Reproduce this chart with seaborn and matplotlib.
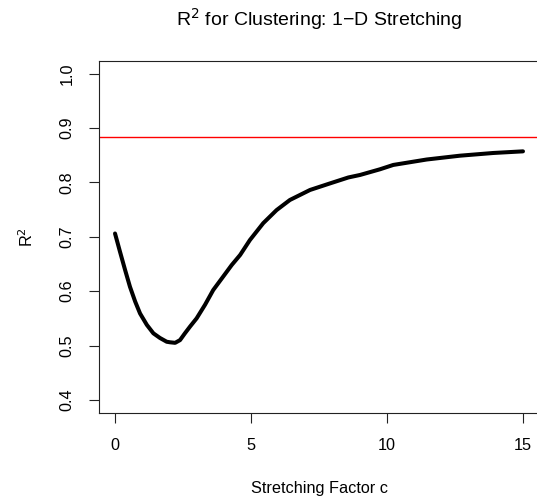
import numpy as np
import pandas as pd
import matplotlib
matplotlib.use("Agg")
import matplotlib.pyplot as plt
import seaborn as sns

# Data
stretch_c = [0.0, 0.18, 0.37, 0.55, 0.74, 0.92, 1.17, 1.41, 1.65, 1.90, 2.02, 2.21,
             2.39, 2.57, 2.76, 3.00, 3.31, 3.61, 3.98, 4.29, 4.60, 4.96, 5.45, 5.94,
             6.43, 7.17, 7.90, 8.58, 9.01, 9.74, 10.23, 11.46, 12.68, 13.91, 15.0]
r_squared = [0.706, 0.673, 0.639, 0.608, 0.581, 0.559, 0.538, 0.5225, 0.514, 0.507, 0.506, 0.505,
             0.510, 0.5225, 0.535, 0.550, 0.575, 0.602, 0.627, 0.648, 0.6665, 0.694, 0.725, 0.749,
             0.7676, 0.786, 0.798, 0.809, 0.8136, 0.824, 0.832, 0.842, 0.849, 0.854, 0.857]
reference_r2 = 0.884
x_ticks = [0, 5, 10, 15]
y_ticks = [0.4, 0.5, 0.6, 0.7, 0.8, 0.9, 1.0]

sns.set_theme(style="white")
plt.rcParams['font.family'] = ['Liberation Sans', 'DejaVu Sans']
plt.rcParams['text.color'] = 'black'
plt.rcParams['axes.labelcolor'] = 'black'

df = pd.DataFrame({"c": stretch_c, "r2": r_squared})

fig = plt.figure(figsize=(5.37, 4.99), dpi=100)
ax = fig.add_axes([98.7 / 537, (499 - 413) / 499, 440.6 / 537, 352.5 / 499])

sns.lineplot(data=df, x="c", y="r2", ax=ax, color="black", linewidth=2.9)
ax.lines[0].set_solid_joinstyle("round")
ax.lines[0].set_solid_capstyle("round")
ax.axhline(reference_r2, color="#ff0000", linewidth=1.0)

ax.set_xlim(-0.6, 15.6)
ax.set_ylim(0.376, 1.024)
ax.set_xticks(x_ticks)
ax.set_xticklabels([str(t) for t in x_ticks])
ax.set_yticks(y_ticks)
ax.set_yticklabels([f"{t:.1f}" for t in y_ticks], rotation=90, va="center")

for s in ax.spines.values():
    s.set_visible(True)
    s.set_color("#222222")
    s.set_linewidth(0.8)

ax.tick_params(axis="both", which="both", direction="out", length=7.2, width=0.8,
               color="#222222", labelsize=11.7, labelcolor="black",
               bottom=True, left=True, top=False, right=False)
ax.tick_params(axis="x", pad=11)
ax.tick_params(axis="y", pad=10)

ax.set_xlabel("Stretching Factor c", fontsize=11.7, labelpad=20)
ax.set_ylabel("R$^2$", fontsize=11.7, labelpad=17)
ax.grid(False)

fig.text((98.7 + 539.3) / 2 / 537, 1 - 19 / 499, "R$^2$ for Clustering: 1\u2212D Stretching",
         ha="center", va="center", fontsize=14)

fig.savefig("out.png", dpi=100)
